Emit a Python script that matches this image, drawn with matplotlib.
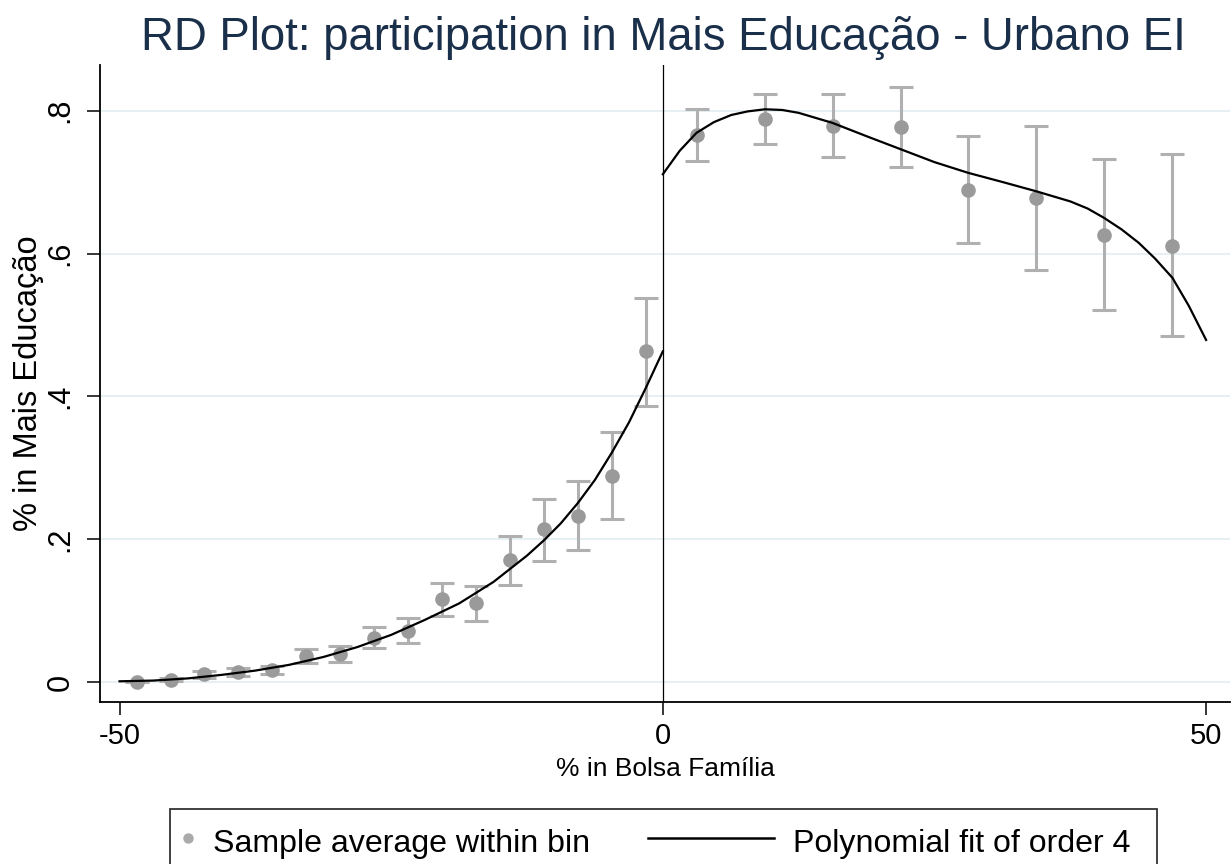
import numpy as np
import matplotlib
matplotlib.use('Agg')
import matplotlib.pyplot as plt
from matplotlib.lines import Line2D
from matplotlib.patches import Rectangle

# bin averages, left of cutoff
left_x = [-48.44, -45.31, -42.19, -39.06, -35.94, -32.81, -29.69, -26.56,
          -23.44, -20.31, -17.19, -14.06, -10.94, -7.81, -4.69, -1.56]
left_mean = [0.000, 0.003, 0.011, 0.014, 0.017, 0.036, 0.039, 0.062,
             0.071, 0.116, 0.110, 0.171, 0.214, 0.233, 0.289, 0.463]
left_lo = [0.000, 0.0015, 0.005, 0.008, 0.011, 0.026, 0.028, 0.047,
           0.054, 0.092, 0.086, 0.136, 0.169, 0.185, 0.228, 0.386]
left_hi = [0.0015, 0.005, 0.016, 0.020, 0.022, 0.046, 0.050, 0.077,
           0.090, 0.139, 0.135, 0.204, 0.256, 0.281, 0.350, 0.538]

# bin averages, right of cutoff
right_x = [3.125, 9.375, 15.625, 21.875, 28.125, 34.375, 40.625, 46.875]
right_mean = [0.766, 0.788, 0.779, 0.777, 0.689, 0.678, 0.626, 0.611]
right_lo = [0.730, 0.753, 0.735, 0.721, 0.615, 0.577, 0.521, 0.484]
right_hi = [0.803, 0.823, 0.823, 0.833, 0.764, 0.778, 0.733, 0.739]

# polynomial fit (order 4)
fit_left_x = [-50, -46.9, -43.75, -40.6, -37.5, -34.4, -31.25, -28.1, -25,
              -21.9, -18.75, -15.6, -12.5, -10.9, -9.4, -7.8, -6.25, -4.7,
              -3.1, -1.56, 0]
fit_left_y = [0.001, 0.002, 0.005, 0.010, 0.016, 0.024, 0.035, 0.049, 0.066,
              0.087, 0.110, 0.140, 0.177, 0.199, 0.222, 0.251, 0.283, 0.321,
              0.364, 0.412, 0.463]
fit_right_x = [0, 1.56, 3.1, 4.7, 6.3, 7.8, 9.4, 11.0, 12.5, 15.6, 18.8, 21.9,
               25.0, 28.1, 31.3, 34.4, 37.5, 39.1, 40.6, 42.2, 43.8, 45.3,
               46.9, 48.4, 50]
fit_right_y = [0.711, 0.744, 0.769, 0.784, 0.794, 0.799, 0.802, 0.801, 0.797,
               0.783, 0.764, 0.746, 0.728, 0.713, 0.700, 0.687, 0.673, 0.663,
               0.650, 0.634, 0.615, 0.593, 0.566, 0.527, 0.479]

title = 'RD Plot: participation in Mais Educação - Urbano EI'
xlabel = '% in Bolsa Família'
ylabel = '% in Mais Educação'
yticks = [0, 0.2, 0.4, 0.6, 0.8]
ytick_labels = ['0', '.2', '.4', '.6', '.8']
xticks = [-50, 0, 50]
legend_labels = ['Sample average within bin', 'Polynomial fit of order 4']

plt.rcParams['font.family'] = ['Liberation Sans', 'DejaVu Sans']
plt.rcParams['axes.unicode_minus'] = False

W, H = 1232, 864
fig = plt.figure(figsize=(W / 100, H / 100), dpi=100)
ax = fig.add_axes([100 / W, 1 - 702 / H, 1130 / W, 637 / H])

pt_color = '#9a9a9a'
bar_color = '#b0b0b0'

for xs, m, lo, hi in [(left_x, left_mean, left_lo, left_hi),
                      (right_x, right_mean, right_lo, right_hi)]:
    m = np.array(m)
    err = [m - np.array(lo), np.array(hi) - m]
    ax.errorbar(xs, m, yerr=err, fmt='none', ecolor=bar_color,
                elinewidth=2.2, capsize=8.5, capthick=2.2, zorder=2)
    ax.plot(xs, m, 'o', color=pt_color, markersize=9.5, zorder=3)

ax.plot(fit_left_x, fit_left_y, color='black', linewidth=1.6, zorder=4)
ax.plot(fit_right_x, fit_right_y, color='black', linewidth=1.6, zorder=4)
ax.axvline(0, color='black', linewidth=0.9, zorder=1)

ax.set_xlim(-51.8, 52.2)
ax.set_ylim(-0.028, 0.864)
ax.set_xticks(xticks)
ax.set_yticks(yticks)
ax.set_yticklabels(ytick_labels)
ax.tick_params(axis='both', length=9.5, width=1.1, labelsize=21, pad=5)
ax.tick_params(axis='y', labelrotation=90, labelsize=22, pad=8)
for lab in ax.get_yticklabels():
    lab.set_va('center')
ax.grid(axis='y', color='#e6eff1', linewidth=1.4)
ax.set_axisbelow(True)
for s in ['top', 'right']:
    ax.spines[s].set_visible(False)
for s in ['left', 'bottom']:
    ax.spines[s].set_linewidth(1.3)

ax.set_xlabel(xlabel, fontsize=19, labelpad=5)
ax.set_ylabel(ylabel, fontsize=23.5, labelpad=1)
fig.text(663 / W, 1 - 50 / H, title, fontsize=32.8, ha='center', va='baseline',
         color='#1a2f4a')

# legend box drawn in figure pixels, Stata style
ft = fig.transFigure
fig.add_artist(Rectangle((170 / W, -0.05), (1157 - 170) / W, 0.05 + (H - 809) / H,
                         transform=ft, fill=False, edgecolor='#333333',
                         linewidth=1.3, clip_on=False))
fig.add_artist(Line2D([188 / W], [1 - 838 / H], transform=ft, marker='o',
                      linestyle='none', color='#aaaaaa', markersize=6.5))
fig.text(213 / W, 1 - 852 / H, legend_labels[0], fontsize=23.1, va='baseline')
fig.add_artist(Line2D([648 / W, 774 / W], [1 - 838 / H, 1 - 838 / H],
                      transform=ft, color='black', linewidth=1.8))
fig.text(793 / W, 1 - 852 / H, legend_labels[1], fontsize=23.1, va='baseline')

fig.savefig('out.png', dpi=100)
